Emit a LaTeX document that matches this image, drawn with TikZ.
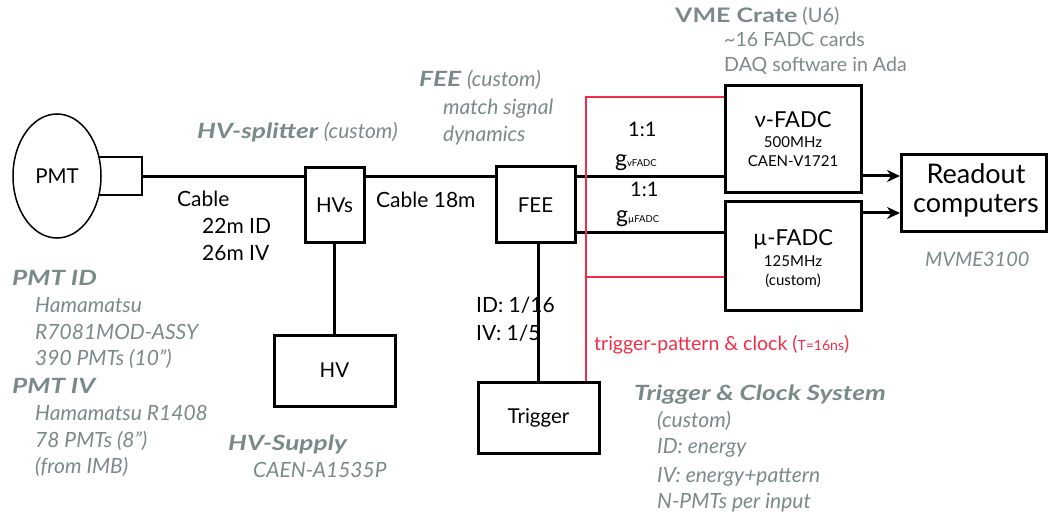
\documentclass[tikz,border=0pt]{standalone}
\usepackage{fontspec}
\setmainfont{Lato}
\newfontfamily\headfont{Lato}[FakeStretch=1.25]
\usetikzlibrary{shapes.geometric,arrows.meta}
\definecolor{gtxt}{RGB}{122,138,138}
\definecolor{rline}{RGB}{240,45,72}
\begin{document}
\begin{tikzpicture}[x=1pt,y=-1pt,
  box/.style={draw,line width=3pt,inner sep=0pt},
  wire/.style={line width=3pt},
  redwire/.style={draw=rline,line width=2.5pt},
  lbl/.style={font=\fontsize{20.5}{24}\selectfont,inner sep=0pt},
  txt/.style={font=\fontsize{21}{25}\selectfont,inner sep=0pt,anchor=base west},
  gline/.style={text=gtxt,font=\fontsize{21}{25}\selectfont\itshape,inner sep=0pt,anchor=base west},
  gup/.style={text=gtxt,font=\fontsize{19.6}{23}\selectfont,inner sep=0pt,anchor=base west},
  ghead/.style={text=gtxt,font=\fontsize{21}{25}\selectfont\headfont\bfseries\itshape,inner sep=0pt,anchor=base west},
  arr/.style={line width=3pt,-{Stealth[length=13pt,width=12pt]}},
]
\useasboundingbox (0,0) rectangle (1048,518);

% --- boxes ---
\node[box,line width=2pt,minimum width=44pt,minimum height=38pt] (pmtc) at (120,176) {};
\node[ellipse,draw,fill=white,line width=1.5pt,minimum width=88pt,minimum height=124pt,lbl] (pmt) at (57,176) {PMT};
\node[box,minimum width=59pt,minimum height=75pt,lbl] (hvs) at (334.5,205.5) {HVs};
\node[box,minimum width=121pt,minimum height=71pt,lbl] (hv) at (334.5,370.5) {HV};
\node[box,minimum width=79pt,minimum height=76pt,lbl] (fee) at (535.5,205) {FEE};
\node[box,minimum width=121pt,minimum height=71pt,lbl] (trig) at (538.5,417.5) {Trigger};
\node[box,minimum width=136pt,minimum height=107pt] (vf) at (793,139.5) {};
\node[box,minimum width=136pt,minimum height=108pt] (mf) at (793,256) {};
\node[box,minimum width=145pt,minimum height=77pt] (ro) at (974,193.5) {};

% --- helper coordinates ---
\coordinate (up) at (0,177);
\coordinate (low) at (0,233);
\coordinate (rtop) at (586,97);
\coordinate (rmid) at (586,277);
\coordinate (a1) at (0,176);
\coordinate (a2) at (0,213);

% --- connectors ---
\draw[wire] (pmtc.east |- up) -- (hvs.west |- up);
\draw[wire] (hvs.east |- up) -- (fee.west |- up);
\draw[wire] (fee.east |- up) -- (vf.west |- up);
\draw[wire] (fee.east |- low) -- (mf.west |- low);
\draw[wire] (hvs.south) -- (hv.north);
\draw[wire] (fee.south -| trig.north) -- (trig.north);
\draw[redwire] (rtop |- trig.north) -- (rtop) -- (rtop -| vf.west);
\draw[redwire] (rmid) -- (rmid -| mf.west);
\draw[arr] (vf.east |- a1) -- (ro.west |- a1);
\draw[arr] (mf.east |- a2) -- (ro.west |- a2);

% --- box inner texts ---
\node[inner sep=0pt,anchor=base,font=\fontsize{22}{26}\selectfont] (vft1) at (793,128) {ν-FADC};
\node[inner sep=0pt,anchor=base,font=\fontsize{15}{18}\selectfont] (vft2) at (793,148) {500MHz};
\node[inner sep=0pt,anchor=base,font=\fontsize{15}{18}\selectfont] (vft3) at (793,167) {CAEN-V1721};
\node[inner sep=0pt,anchor=base,font=\fontsize{22}{26}\selectfont] (mft1) at (793,246) {µ-FADC};
\node[inner sep=0pt,anchor=base,font=\fontsize{15}{18}\selectfont] (mft2) at (793,267) {125MHz};
\node[inner sep=0pt,anchor=base,font=\fontsize{15}{18}\selectfont] (mft3) at (793,285) {(custom)};
\node[inner sep=0pt,anchor=base,font=\fontsize{27}{30}\selectfont] (rot1) at (976,184) {Readout};
\node[inner sep=0pt,anchor=base,font=\fontsize{27}{30}\selectfont] (rot2) at (976,213) {computers};

% --- black labels ---
\node[txt] (c1) at (177,207) {Cable};
\node[txt] (c2) at (202,234) {22m ID};
\node[txt] (c3) at (202,261) {26m IV};
\node[txt] (c4) at (376,208) {Cable 18m};
\node[txt,font=\fontsize{20}{24}\selectfont] (r1) at (628,137) {1:1};
\node[txt,font=\fontsize{23}{26}\selectfont] (g1) at (615,167) {g{\fontsize{9.5}{11}\selectfont vFADC}};
\node[txt,font=\fontsize{20}{24}\selectfont] (r2) at (630,197) {1:1};
\node[txt,font=\fontsize{23}{26}\selectfont] (g2) at (616,223) {g{\fontsize{9.5}{11}\selectfont µFADC}};
\node[txt] (tr1) at (476,312) {ID: 1/16};
\node[txt] (tr2) at (476,340) {IV: 1/5};
\node[txt,text=rline,font=\fontsize{19.5}{23}\selectfont] (tpc) at (594,350) {trigger-pattern \& clock ({\fontsize{14}{17}\selectfont T=16ns})};

% --- gray annotations ---
\node[ghead] (hvsp) at (197,139) {HV-splitter {\normalfont\itshape (custom)}};
\node[ghead] (feeh) at (419,87) {FEE {\normalfont\itshape (custom)}};
\node[gline] (fee2) at (443,115) {match signal};
\node[gline] (fee3) at (443,142) {dynamics};
\node[gup,font=\fontsize{20}{24}\selectfont] (vme) at (675,23) {{\headfont\bfseries VME Crate} (U6)};
\node[gup] (vme2) at (724,47) {\textasciitilde16 FADC cards};
\node[gup] (vme3) at (724,72) {DAQ software in Ada};
\node[gline,font=\fontsize{20}{24}\selectfont\itshape] (mvme) at (925,267) {MVME3100};
\node[ghead] (pid) at (12,285) {PMT ID};
\node[gline] (pid1) at (35,312) {Hamamatsu};
\node[gline] (pid2) at (35,339) {R7081MOD-ASSY};
\node[gline] (pid3) at (35,365) {390 PMTs (10”)};
\node[ghead] (piv) at (12,393) {PMT IV};
\node[gline] (piv1) at (35,420) {Hamamatsu R1408};
\node[gline] (piv2) at (35,447) {78 PMTs (8”)};
\node[gline] (piv3) at (35,473) {(from IMB)};
\node[ghead] (hvsu) at (228,450) {HV-Supply};
\node[gline] (hvsu2) at (253,477) {CAEN-A1535P};
\node[ghead] (tcs) at (634,400) {Trigger \& Clock System};
\node[gline] (tcs1) at (657,427) {(custom)};
\node[gline] (tcs2) at (657,453) {ID: energy};
\node[gline] (tcs3) at (657,482) {IV: energy+pattern};
\node[gline] (tcs4) at (657,508) {N-PMTs per input};
\end{tikzpicture}
\end{document}
